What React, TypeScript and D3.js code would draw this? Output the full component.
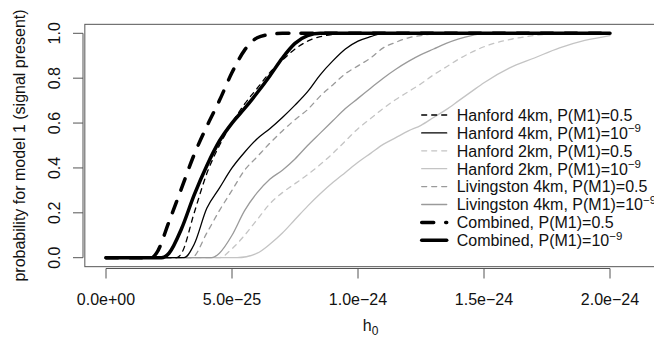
import React from 'react'
import * as d3 from 'd3'

const hanford4k05 = [[0, 0], [0.28, 0], [0.3, 0.02], [0.35, 0.2], [0.4, 0.375], [0.45, 0.5], [0.5, 0.6], [0.55, 0.685], [0.6, 0.755], [0.65, 0.825], [0.7, 0.88], [0.75, 0.93], [0.8, 0.965], [0.85, 0.985], [0.9, 0.995], [0.95, 1], [2, 1]]
const hanford4k1e9 = [[0, 0], [0.31, 0], [0.35, 0.06], [0.4, 0.22], [0.45, 0.31], [0.5, 0.4], [0.55, 0.47], [0.6, 0.53], [0.65, 0.575], [0.7, 0.625], [0.75, 0.68], [0.8, 0.74], [0.85, 0.815], [0.9, 0.877], [0.95, 0.93], [1.0, 0.965], [1.05, 0.985], [1.1, 1], [2, 1]]
const hanford2k05 = [[0, 0], [0.45, 0], [0.5, 0.04], [0.55, 0.1], [0.6, 0.17], [0.65, 0.24], [0.7, 0.29], [0.75, 0.33], [0.8, 0.37], [0.85, 0.415], [0.9, 0.465], [0.95, 0.52], [1.0, 0.575], [1.05, 0.62], [1.1, 0.665], [1.15, 0.705], [1.2, 0.74], [1.25, 0.775], [1.3, 0.815], [1.35, 0.85], [1.4, 0.885], [1.5, 0.94], [1.6, 0.972], [1.7, 0.99], [1.8, 1], [2, 1]]
const hanford2k1e9 = [[0, 0], [0.52, 0], [0.6, 0.02], [0.65, 0.06], [0.7, 0.11], [0.75, 0.17], [0.8, 0.23], [0.85, 0.285], [0.9, 0.335], [0.95, 0.38], [1.0, 0.425], [1.05, 0.465], [1.1, 0.505], [1.15, 0.535], [1.2, 0.565], [1.25, 0.59], [1.3, 0.625], [1.35, 0.66], [1.4, 0.7], [1.45, 0.74], [1.5, 0.78], [1.6, 0.845], [1.7, 0.89], [1.8, 0.935], [1.9, 0.968], [2.0, 0.99]]
const livingston05 = [[0, 0], [0.34, 0], [0.4, 0.11], [0.45, 0.21], [0.5, 0.3], [0.55, 0.39], [0.6, 0.45], [0.65, 0.51], [0.7, 0.565], [0.75, 0.615], [0.8, 0.66], [0.85, 0.72], [0.9, 0.77], [0.95, 0.82], [1.0, 0.855], [1.05, 0.89], [1.1, 0.935], [1.15, 0.96], [1.2, 0.98], [1.25, 0.99], [1.3, 0.997], [1.4, 1], [2, 1]]
const livingston1e9 = [[0, 0], [0.42, 0], [0.45, 0.02], [0.5, 0.1], [0.55, 0.21], [0.6, 0.29], [0.65, 0.35], [0.7, 0.39], [0.75, 0.44], [0.8, 0.5], [0.85, 0.555], [0.9, 0.61], [0.95, 0.665], [1.0, 0.71], [1.05, 0.755], [1.1, 0.8], [1.15, 0.84], [1.2, 0.875], [1.25, 0.905], [1.3, 0.93], [1.35, 0.955], [1.4, 0.975], [1.45, 0.99], [1.5, 1], [2, 1]]
const combined05 = [[0, 0], [0.18, 0], [0.2, 0.02], [0.25, 0.16], [0.3, 0.31], [0.35, 0.46], [0.4, 0.585], [0.45, 0.7], [0.5, 0.825], [0.55, 0.925], [0.6, 0.98], [0.65, 0.995], [0.7, 1], [2, 1]]
const combined1e9 = [[0, 0], [0.22, 0], [0.25, 0.02], [0.3, 0.13], [0.35, 0.28], [0.4, 0.41], [0.45, 0.52], [0.5, 0.6], [0.55, 0.665], [0.6, 0.735], [0.65, 0.81], [0.7, 0.89], [0.75, 0.955], [0.8, 0.99], [0.85, 1], [2, 1]]

const xTicks = [0, 0.5, 1, 1.5, 2]
const xTickLabels = ['0.0e+00', '5.0e\u221225', '1.0e\u221224', '1.5e\u221224', '2.0e\u221224']
const yTicks = [0, 0.2, 0.4, 0.6, 0.8, 1]
const yTickLabels = ['0.0', '0.2', '0.4', '0.6', '0.8', '1.0']

const legendNames = ['Hanford 4km, P(M1)=', 'Hanford 4km, P(M1)=', 'Hanford 2km, P(M1)=', 'Hanford 2km, P(M1)=', 'Livingston 4km, P(M1)=', 'Livingston 4km, P(M1)=', 'Combined, P(M1)=', 'Combined, P(M1)=']

const thin = 1.3
const thick = 3.5
const styles = [
  { data: hanford4k05, color: '#000', width: thin, dash: '5 5', prior: '0.5' },
  { data: hanford4k1e9, color: '#000', width: thin, dash: null, prior: '1e-9' },
  { data: hanford2k05, color: '#c4c4c4', width: thin, dash: '5 5', prior: '0.5' },
  { data: hanford2k1e9, color: '#c4c4c4', width: thin, dash: null, prior: '1e-9' },
  { data: livingston05, color: '#9a9a9a', width: thin, dash: '5 5', prior: '0.5' },
  { data: livingston1e9, color: '#9a9a9a', width: thin, dash: null, prior: '1e-9' },
  { data: combined05, color: '#000', width: thick, dash: '12 12', prior: '0.5' },
  { data: combined1e9, color: '#000', width: thick, dash: null, prior: '1e-9' },
]

const font = 'Liberation Sans, Arial, Helvetica, sans-serif'

export default function App() {
  const x = d3.scaleLinear().domain([0, 2.1]).range([106, 635.2])
  const y = d3.scaleLinear().domain([0, 1]).range([257.7, 33.3])
  const [x0, x1] = x.range()
  const [y0, y1] = y.range()
  const padX = (x1 - x0) * 0.04
  const padY = (y0 - y1) * 0.04
  const box = { left: x0 - padX, right: x1 + padX, top: y1 - padY, bottom: y0 + padY }

  const line = d3.line<number[]>()
    .x(d => x(d[0]))
    .y(d => y(d[1]))
    .curve(d3.curveMonotoneX)

  // draw lighter curves first, heavy combined curves on top
  const drawOrder = [3, 2, 5, 4, 1, 0, 7, 6]

  const legX = 421.7
  const legY = 115
  const legStep = 17.9

  return (
    <svg width={654} height={346} style={{ position: 'absolute', left: 0, top: 0, background: '#fff' }}
      fontFamily={font}>
      <rect x={box.left} y={box.top} width={box.right - box.left} height={box.bottom - box.top}
        fill="none" stroke="#555" strokeWidth={1} />

      {drawOrder.map(i => {
        const s = styles[i]
        return (
          <path key={i} d={line(s.data) || ''} fill="none" stroke={s.color} strokeWidth={s.width}
            strokeDasharray={s.dash || undefined} strokeLinecap="round" strokeLinejoin="round" />
        )
      })}

      {/* y axis */}
      <line x1={83} x2={83} y1={y(0)} y2={y(1)} stroke="#555" />
      {yTicks.map((t, i) => (
        <g key={t}>
          <line x1={73} x2={83} y1={y(t)} y2={y(t)} stroke="#555" />
          <text transform={`translate(60,${y(t)}) rotate(-90)`} textAnchor="middle" fontSize={16} fill="#111">
            {yTickLabels[i]}
          </text>
        </g>
      ))}
      <text transform={`translate(25,${(box.top + box.bottom) / 2}) rotate(-90)`} textAnchor="middle"
        fontSize={16} fill="#111">probability for model 1 (signal present)</text>

      {/* x axis */}
      <line x1={x(0)} x2={x(2)} y1={268.5} y2={268.5} stroke="#555" />
      {xTicks.map((t, i) => (
        <g key={t}>
          <line x1={x(t)} x2={x(t)} y1={268.5} y2={278.5} stroke="#555" />
          <text x={x(t)} y={304.5} textAnchor="middle" fontSize={16} fill="#111">{xTickLabels[i]}</text>
        </g>
      ))}
      <text x={(box.left + box.right) / 2} y={331} textAnchor="middle" fontSize={16} fill="#111">
        h<tspan fontSize={12} dy={4}>0</tspan>
      </text>

      {/* legend */}
      {styles.map((s, i) => {
        const ly = legY + i * legStep
        return (
          <g key={i}>
            <line x1={legX} x2={legX + 25} y1={ly} y2={ly} stroke={s.color} strokeWidth={s.width}
              strokeDasharray={s.dash || undefined} strokeLinecap="round" />
            <text x={legX + 35} y={ly + 5.8} fontSize={16} fill="#111">
              {legendNames[i]}
              {s.prior === '0.5' ? '0.5' : <>10<tspan fontSize={11.5} dy={-6.5}>{'\u22129'}</tspan></>}
            </text>
          </g>
        )
      })}
    </svg>
  )
}
